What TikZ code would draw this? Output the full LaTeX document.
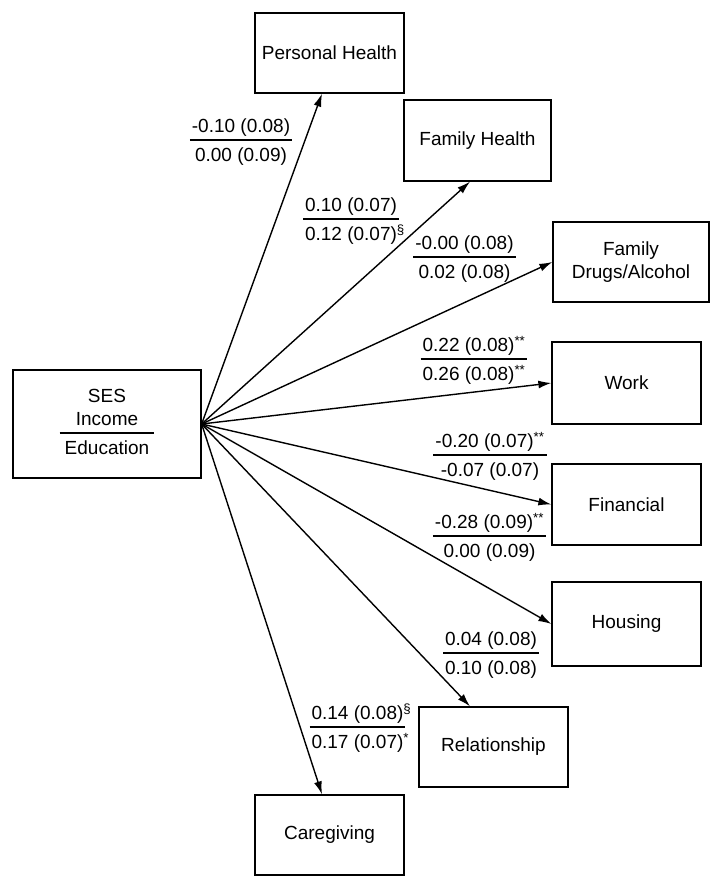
\documentclass[tikz,border=0pt]{standalone}
\usepackage{fontspec}
\setmainfont{Liberation Sans}
\usetikzlibrary{arrows.meta,calc}
\setlength{\arrayrulewidth}{1.5pt}
\newcommand\fr[2]{\begin{tabular}{@{\hspace{2pt}}c@{\hspace{2pt}}}#1\\\hline\rule{0pt}{21pt}#2\end{tabular}}
\newcommand\sst{\textsuperscript{**}}
\begin{document}
\begin{tikzpicture}[x=1pt,y=-1pt,
  every node/.style={font=\fontsize{19}{22.8}\selectfont},
  box/.style={draw,line width=1.3pt,inner sep=0pt,align=center,minimum width=149pt,minimum height=81pt},
  lab/.style={inner sep=0pt},
  arr/.style={-{Latex[length=13pt,width=8pt]},line width=1.4pt}]
\useasboundingbox (0,0) rectangle (714,890);
\node[box,minimum width=188pt,minimum height=108pt] (ses) at (107,424)
  {\begin{tabular}{@{\hspace{5pt}}c@{\hspace{5pt}}}SES\\Income\\\hline\rule{0pt}{21pt}Education\end{tabular}};
\node[box,minimum height=80pt] (ph) at (329.5,53) {Personal Health};
\node[box,minimum width=147pt] (fh) at (477.5,140.5) {Family Health};
\node[box,minimum width=156pt,minimum height=80pt] (fda) at (631,262) {Family\\Drugs/Alcohol};
\node[box,minimum height=82pt] (work) at (626.5,383) {Work};
\node[box] (fin) at (626.5,504.5) {Financial};
\node[box,minimum height=84pt] (hou) at (626.5,624) {Housing};
\node[box,minimum height=80pt] (rel) at (493.5,747) {Relationship};
\node[box,minimum height=80pt] (care) at (329.5,835) {Caregiving};
\draw[arr] (ses.east) -- ($(ph.south)+(-7.5,0)$);
\draw[arr] (ses.east) -- ($(fh.south)+(-7.5,0)$);
\draw[arr] (ses.east) -- (fda.west);
\draw[arr] (ses.east) -- (work.west);
\draw[arr] (ses.east) -- (fin.west);
\draw[arr] (ses.east) -- (hou.west);
\draw[arr] (ses.east) -- ($(rel.north)+(-23.5,0)$);
\draw[arr] (ses.east) -- ($(care.north)+(-7.5,0)$);
\node[lab] (l1) at (241,142.5) {\fr{-0.10 (0.08)}{0.00 (0.09)}};
\node[lab] (l2) at (351,221.5) {\fr{0.10 (0.07)}{0.12 (0.07)\rlap{\textsuperscript{\S}}}};
\node[lab] (l3) at (464.5,259.5) {\fr{-0.00 (0.08)}{0.02 (0.08)}};
\node[lab] (l4) at (474,361.5) {\fr{0.22 (0.08)\sst}{0.26 (0.08)\sst}};
\node[lab] (l5) at (490,457.5) {\fr{-0.20 (0.07)\sst}{-0.07 (0.07)}};
\node[lab] (l6) at (489.5,538.5) {\fr{-0.28 (0.09)\sst}{0.00 (0.09)}};
\node[lab] (l7) at (491,655.5) {\fr{0.04 (0.08)}{0.10 (0.08)}};
\node[lab] (l8) at (357.5,729.5) {\fr{0.14 (0.08)\rlap{\textsuperscript{\S}}}{0.17 (0.07)\rlap{\textsuperscript{*}}}};
\end{tikzpicture}
\end{document}
